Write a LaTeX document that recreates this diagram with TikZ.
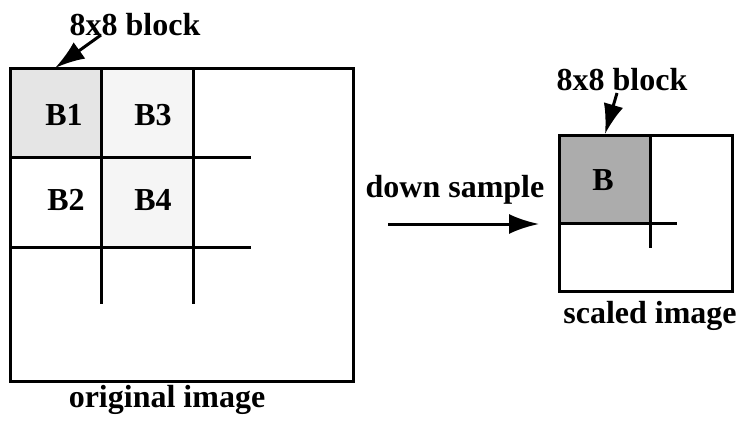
\documentclass[tikz,border=0pt]{standalone}
\usepackage{fontspec}
\setmainfont{Liberation Serif}
\usetikzlibrary{arrows.meta}
\begin{document}
\begin{tikzpicture}[x=1pt,y=-1pt,
  lbl/.style={font=\fontsize{32}{36}\selectfont\bfseries, inner sep=0pt},
  grid/.style={line width=3pt},
  frame/.style={line width=3pt},
  arr/.style={line width=3pt, -{Latex[length=30pt,width=20pt]}}]
\useasboundingbox (0,0) rectangle (741,420);
% left image shading
\fill[gray!20] (10,68) rectangle (101,157);
\fill[gray!8] (101,68) rectangle (193,157);
\fill[gray!8] (101,157) rectangle (193,247);
% left grid
\draw[grid] (10,157) -- (251,157);
\draw[grid] (10,247) -- (251,247);
\draw[grid] (101,68) -- (101,304);
\draw[grid] (193,68) -- (193,304);
\draw[frame] (10,68) rectangle (353,381);
\node[lbl] (b1) at (64,115) {B1};
\node[lbl] (b3) at (153,115) {B3};
\node[lbl] (b2) at (66,200) {B2};
\node[lbl] (b4) at (153,200) {B4};
\coordinate (orig) at (55,68);
\node[lbl] (l1) at (135,25) {8x8 block};
\draw[arr] (101,35) -- (orig);
\node[lbl] (origlbl) at (167,400) {original image};
% right image
\fill[gray!65] (559,135) rectangle (650,223);
\draw[grid] (559,223) -- (677,223);
\draw[grid] (650,135) -- (650,248);
\draw[frame] (559,135) rectangle (732,291);
\node[lbl] (bb) at (603,180) {B};
\coordinate (scaled) at (605,134);
\node[lbl] (l2) at (622,80) {8x8 block};
\draw[arr] (617,93) -- (scaled);
\node[lbl] (scaledlbl) at (650,316) {scaled image};
% down sample arrow
\node[lbl] (ds) at (455,190) {down sample};
\coordinate (dsA) at (388,224);
\coordinate (dsB) at (539,224);
\draw[arr] (dsA) -- (dsB);
\end{tikzpicture}
\end{document}
